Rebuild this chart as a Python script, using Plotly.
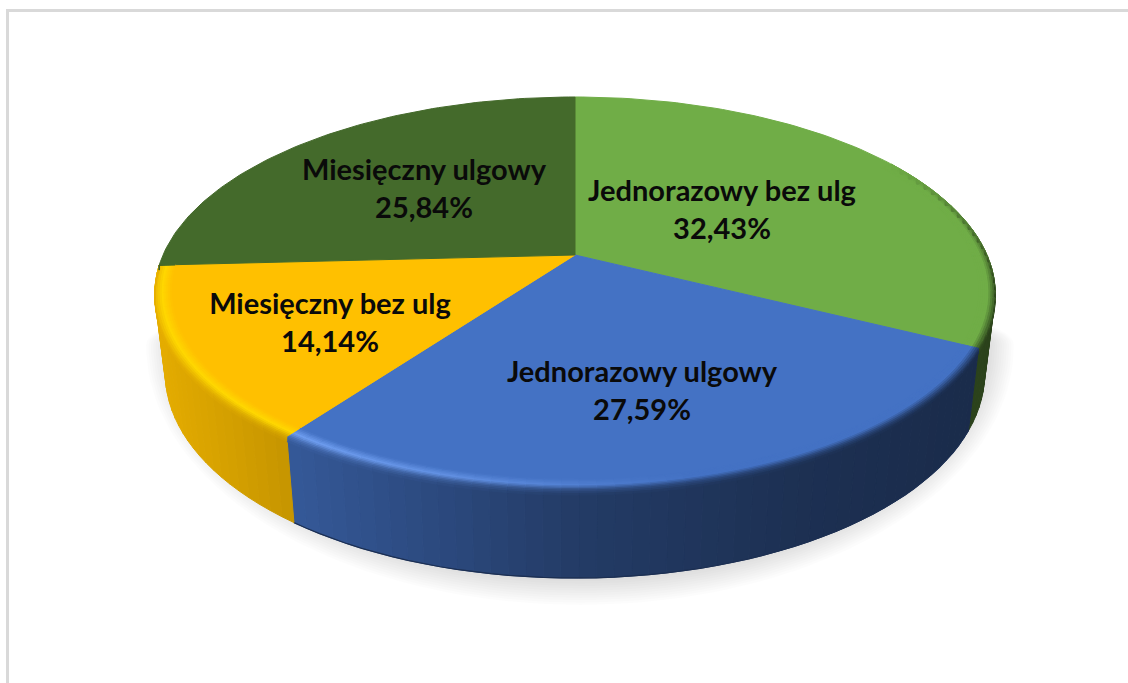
import numpy as np
import plotly.graph_objects as go

# Data (clockwise from 12 o'clock)
categories = ["Jednorazowy bez ulg", "Jednorazowy ulgowy", "Miesięczny bez ulg", "Miesięczny ulgowy"]
shares = [32.43, 27.59, 14.14, 25.84]

# Styles
base_colors = ["#70ad47", "#4472c4", "#ffc000", "#446a2b"]
peak_colors = ["#70ad47", "#6f9ef0", "#ffd800", "#446a2b"]
label_x = [722, 642, 330, 424]
label_y = [213, 394, 326, 192]

# Perspective model of the disc, in page pixels
CX, CY, R = 575.0, 255.0, 412.0
K, A = 0.196, -139.0


def rgb(h):
    return np.array([int(h[i:i + 2], 16) for i in (1, 3, 5)], dtype=float)


def css(c):
    c = np.clip(c, 0, 255).round().astype(int)
    return f"rgb({c[0]},{c[1]},{c[2]})"


def mix(a, b, t):
    return a + (b - a) * t


def top(theta, r=1.0):
    x, y = r * np.sin(theta), r * np.cos(theta)
    d = 1 + K * y
    return CX + R * x / d, (A * y + CY) / d


def bottom(theta):
    X, Y = top(theta)
    return CX + 0.975 * (X - CX), Y + 78 - 10 * np.cos(theta)


def wall_factor(x):
    return np.interp(x, [160, 290, 575, 800, 970], [0.90, 0.78, 0.52, 0.42, 0.38])


def peak_strength(x):
    return np.interp(x, [300, 450, 600, 700], [1.0, 0.7, 0.25, 0.0])


fig = go.Figure()


def poly(xs, ys, color):
    fig.add_trace(go.Scatter(x=xs, y=ys, mode="lines", fill="toself", fillcolor=color,
                             line=dict(color=color, width=1.0), hoverinfo="skip", showlegend=False))


# Soft shadow: a flattened upper half that stays behind the disc, a full lower half
for t in np.linspace(0, 1, 12):
    a = np.linspace(0, 2 * np.pi, 181)
    rx, ry = 434 - 26 * t, 260 - 26 * t
    s = np.sin(a)
    fig.add_trace(go.Scatter(x=580 + rx * np.cos(a), y=345 + np.where(s > 0, ry, 60) * s, mode="lines",
                             fill="toself", fillcolor="rgba(0,0,0,0.0105)", line=dict(width=0),
                             hoverinfo="skip", showlegend=False))

edges = np.radians(np.concatenate([[0], np.cumsum(shares)]) * 3.6)
STEP = np.radians(2)

# Side wall
for i in range(len(shares)):
    lo, hi = max(edges[i], np.radians(92)), min(edges[i + 1], np.radians(267))
    if hi <= lo:
        continue
    base = rgb(base_colors[i])
    n = max(2, int((hi - lo) / STEP))
    th = np.linspace(lo, hi, n + 1)
    for a, b in zip(th[:-1], th[1:]):
        x0, y0 = top(a)
        x1, y1 = top(b)
        x2, y2 = bottom(b)
        x3, y3 = bottom(a)
        poly([x0, x1, x2, x3, x0], [y0, y1, y2, y3, y0], css(base * wall_factor((x2 + x3) / 2)))
    if i == 1:
        bx, by = bottom(th)
        fig.add_trace(go.Scatter(x=bx, y=by, mode="lines", hoverinfo="skip", showlegend=False,
                                 line=dict(color=css(base * wall_factor(575) * 0.8), width=1.2)))

# Top surface
for i in range(len(shares)):
    th = np.linspace(edges[i], edges[i + 1], 90)
    xs, ys = top(th)
    poly(np.r_[CX, xs, CX], np.r_[CY, ys, CY], base_colors[i])

# Bevelled rim: radius, extra drop, blend position
radii = np.linspace(0.962, 1.0, 9)
bands = [(r, 0.0, 0.86 * j / 8) for j, r in enumerate(radii)] + [(1.0, d, 0.86 + 0.14 * d / 5) for d in (1.7, 3.4, 5.0)]
TP = 0.5
for i in range(len(shares)):
    lo, hi = max(edges[i], np.radians(58)), min(edges[i + 1], np.radians(267))
    if hi <= lo:
        continue
    base, peak = rgb(base_colors[i]), rgb(peak_colors[i])
    n = max(2, int((hi - lo) / STEP))
    th = np.linspace(lo, hi, n + 1)
    for a, b in zip(th[:-1], th[1:]):
        mid = (a + b) / 2
        xm = top(mid)[0]
        fade = np.clip((np.degrees(mid) - 58) / 40, 0, 1)
        pk = mix(base, peak, peak_strength(xm))
        w = mix(base, base * wall_factor(xm), fade)
        for (r0, d0, t0), (r1, d1, t1) in zip(bands[:-1], bands[1:]):
            t = (t0 + t1) / 2
            c = mix(base, pk, t / TP) if t < TP else mix(pk, w, (t - TP) / (1 - TP))
            xa, ya = top(a, r0)
            xb, yb = top(b, r0)
            xc, yc = top(b, r1)
            xd, yd = top(a, r1)
            poly([xa, xb, xc, xd, xa], [ya + d0, yb + d0, yc + d1, yd + d1, ya + d0], css(c))

# Labels
labels = [f"{c}<br>{s:.2f}%".replace(".", ",") for c, s in zip(categories, shares)]
fig.add_trace(go.Scatter(x=label_x, y=label_y, mode="text", text=labels, textposition="middle center",
                         textfont=dict(family="Lato", size=29, color="#0a0a0a", weight="bold"),
                         hoverinfo="skip", showlegend=False))

fig.update_layout(
    width=1128, height=683, margin=dict(l=0, r=0, t=0, b=0),
    paper_bgcolor="white", plot_bgcolor="white", showlegend=False,
    xaxis=dict(range=[0, 1128], visible=False, fixedrange=True),
    yaxis=dict(range=[683, 0], visible=False, fixedrange=True),
    shapes=[
        dict(type="line", x0=6, x1=1128, y0=10.5, y1=10.5, line=dict(color="#d9d9d9", width=3)),
        dict(type="line", x0=7.5, x1=7.5, y0=9, y1=683, line=dict(color="#d9d9d9", width=3)),
    ],
)
fig.write_html("out.html", config={"displayModeBar": False},
               post_script="document.body.style.margin='0';document.documentElement.style.overflow='hidden';")
